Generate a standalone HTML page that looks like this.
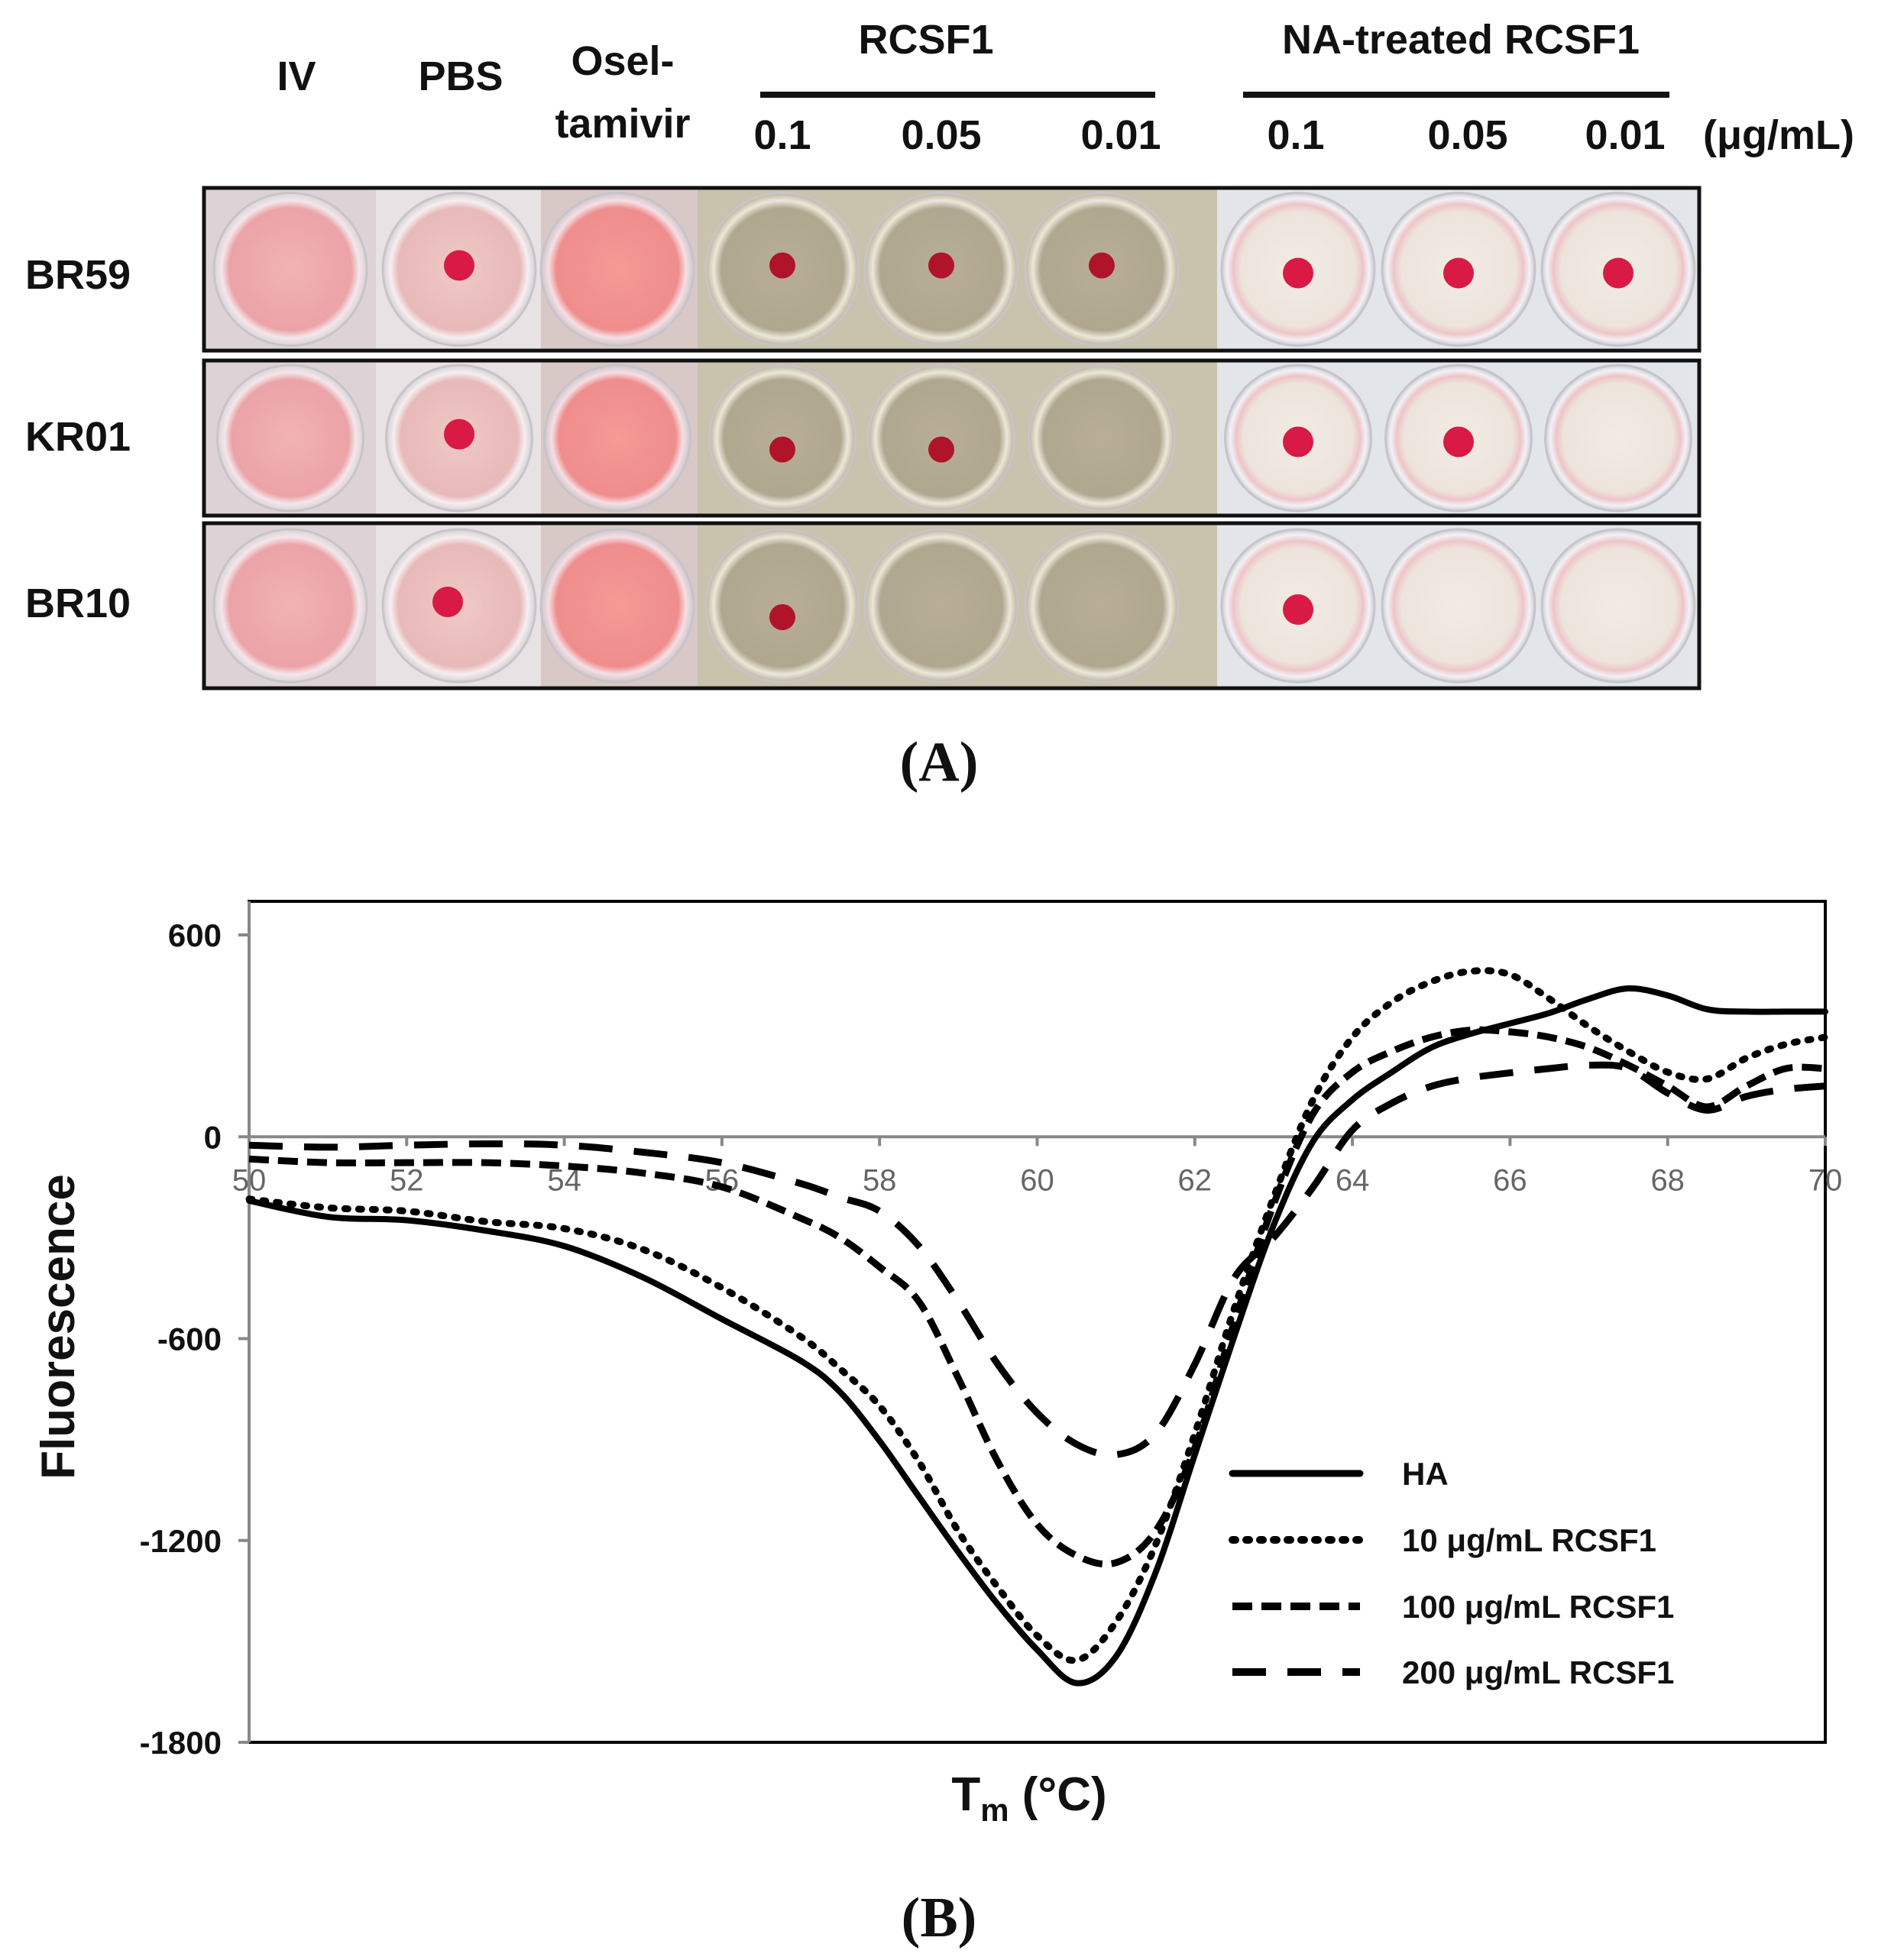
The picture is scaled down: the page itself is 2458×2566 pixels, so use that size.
<!DOCTYPE html>
<html><head><meta charset="utf-8"><style>
body{margin:0;background:#fff}
svg text{font-family:"Liberation Sans",sans-serif}
svg text.serif{font-family:"Liberation Serif",serif}
</style></head><body>
<svg id="fig" width="2458" height="2561" viewBox="0 0 2458 2561" xmlns="http://www.w3.org/2000/svg">
<defs>
<radialGradient id="gPink" cx="50%" cy="50%" r="50%"><stop offset="0" stop-color="#f2b3b5"/><stop offset="0.8" stop-color="#eba3a7"/><stop offset="0.9" stop-color="#f4e6ea"/><stop offset="1" stop-color="#d9d4d8"/></radialGradient>
<radialGradient id="gPinkLight" cx="50%" cy="50%" r="50%"><stop offset="0" stop-color="#efc9c6"/><stop offset="0.8" stop-color="#e8b9b9"/><stop offset="0.9" stop-color="#f6eef0"/><stop offset="1" stop-color="#d5d1d6"/></radialGradient>
<radialGradient id="gOsel" cx="50%" cy="50%" r="50%"><stop offset="0" stop-color="#f59a94"/><stop offset="0.8" stop-color="#ef8d8d"/><stop offset="0.9" stop-color="#f5dfe4"/><stop offset="1" stop-color="#cfc6cc"/></radialGradient>
<radialGradient id="gTan" cx="50%" cy="50%" r="50%"><stop offset="0" stop-color="#b8ae98"/><stop offset="0.8" stop-color="#b0a78f"/><stop offset="0.9" stop-color="#ece7da"/><stop offset="1" stop-color="#bdb49e"/></radialGradient>
<radialGradient id="gWhite" cx="50%" cy="50%" r="50%"><stop offset="0" stop-color="#f1ebe4"/><stop offset="0.75" stop-color="#ede4dc"/><stop offset="0.85" stop-color="#eec5c8"/><stop offset="0.93" stop-color="#f3f1f5"/><stop offset="1" stop-color="#c9cdd8"/></radialGradient>
</defs>
<g>
<g font-weight="bold" font-size="54" fill="#111" text-anchor="middle">
<text x="388" y="118">IV</text>
<text x="603" y="118">PBS</text>
<text x="815" y="98">Osel-</text>
<text x="815" y="180">tamivir</text>
<text x="1212" y="70">RCSF1</text>
<text x="1912" y="70">NA-treated  RCSF1</text>
<text x="1024" y="195">0.1</text>
<text x="1232" y="195">0.05</text>
<text x="1467" y="195">0.01</text>
<text x="1696" y="195">0.1</text>
<text x="1921" y="195">0.05</text>
<text x="2127" y="195">0.01</text>
<text x="2328" y="195">(μg/mL)</text>
<text x="102" y="378">BR59</text>
<text x="102" y="590">KR01</text>
<text x="102" y="808">BR10</text>
</g>
<rect x="995" y="120" width="517" height="8" fill="#111"/>
<rect x="1627" y="120" width="558" height="8" fill="#111"/>
<g id="plates"></g>
<text class="serif" x="1229" y="1022" font-weight="bold" font-size="74" text-anchor="middle" fill="#111">(A)</text>
</g>
<g>
<rect x="326" y="1180" width="2063" height="1101" fill="none" stroke="#000" stroke-width="4"/>
<g id="axes"></g>
<g id="series"></g>
<g id="legend"></g>
<text transform="translate(97,1737) rotate(-90)" font-weight="bold" font-size="62" text-anchor="middle" fill="#111">Fluorescence</text>
<text x="1347" y="2370" font-weight="bold" font-size="62" text-anchor="middle" fill="#111">T<tspan font-size="42" dy="14">m</tspan><tspan dy="-14"> (°C)</tspan></text>
<text class="serif" x="1229" y="2535" font-weight="bold" font-size="74" text-anchor="middle" fill="#111">(B)</text>
</g>
</svg>
<script>
const NS='http://www.w3.org/2000/svg';
function mk(tag,attrs,parent){const e=document.createElementNS(NS,tag);for(const k in attrs)e.setAttribute(k,attrs[k]);parent.appendChild(e);return e;}

// ---- Panel A plate data ----
const rowNames=['BR59','KR01','BR10'];
const wellFills=['gPink','gPinkLight','gOsel','gTan','gTan','gTan','gWhite','gWhite','gWhite'];
const pellets=[[0,1,0,1,1,1,1,1,1],[0,1,0,1,1,0,1,1,0],[0,1,0,1,0,0,1,0,0]];
const rowTop=[246,472,685], rowBot=[459,675,901];
const colCx=[380,601,808,1024,1232,1442,1699,1909,2118];
const segX=[267,492,708,913,1593,2224];
const segBg=['#ddd3d6','#e8e2e5','#d8c9c7','#c9c2ad','#e2e6ea'];
const plates=document.getElementById('plates');
for(let r=0;r<3;r++){
  const g=mk('g',{},plates);
  
  
  const segs=[[0,1],[1,2],[2,3],[3,4],[4,5]];
  segs.forEach((s,i)=>{mk('rect',{x:segX[s[0]],y:rowTop[r],width:segX[s[1]]-segX[s[0]],height:rowBot[r]-rowTop[r],fill:segBg[i]},g);});
  const cy=(rowTop[r]+rowBot[r])/2, rad=(rowBot[r]-rowTop[r])/2-6;
  for(let c=0;c<9;c++){
    const w=mk('circle',{cx:colCx[c],cy:cy,r:Math.min(rad,100),fill:'url(#'+wellFills[c]+')',stroke:'#c8c4c8','stroke-width':3},g);
    
    
    if(pellets[r][c]){
      const p=mk('circle',{cx:colCx[c]+(c===1&&r===2?-15:0),cy:cy+(c>=3&&c<=5&&r>0?15:(c>=6?5:-5)),r:c>=3&&c<=5?17:20,fill:c>=3&&c<=5?'#b0142a':'#d81a45'},g);
      
      
    }
  }
  mk('rect',{x:267,y:rowTop[r],width:1957,height:rowBot[r]-rowTop[r],fill:'none',stroke:'#111','stroke-width':5},g);
}

// ---- Panel B chart data ----
const xTicks=[50,52,54,56,58,60,62,64,66,68,70];
const yTicks=[600,0,-600,-1200,-1800];
const temps=[50,51,52,53,54,55,56,57,57.5,58,58.5,59,59.5,60,60.5,61,61.5,62,62.5,63,63.5,64,64.5,65,65.5,66,66.5,67,67.5,68,68.5,69,69.5,70];
const haValues=[-190,-238,-248,-279,-325,-418,-542,-666,-759,-904,-1070,-1235,-1390,-1525,-1624,-1545,-1297,-945,-594,-263,-14,110,192,265,306,337,368,410,441,420,379,372,372,372];
const rcsf10Values=[-185,-211,-221,-252,-273,-335,-449,-594,-690,-800,-966,-1173,-1339,-1483,-1556,-1442,-1214,-883,-511,-180,110,296,400,461,492,482,410,327,254,192,172,234,275,296];
const rcsf100Values=[-66,-77,-77,-77,-87,-108,-149,-242,-300,-387,-490,-718,-966,-1152,-1245,-1266,-1173,-925,-552,-201,68,192,254,296,317,312,296,265,213,151,89,151,203,203];
const rcsf200Values=[-25,-31,-25,-21,-25,-46,-77,-139,-180,-221,-325,-490,-676,-821,-914,-945,-883,-676,-420,-300,-150,20,100,150,175,190,203,213,203,130,79,120,141,151];
const seriesNames=['HA','10 μg/mL RCSF1','100 μg/mL RCSF1','200 μg/mL RCSF1'];

const X0=326,X1=2389,Y0=1224,Y1=2281,xMin=50,xMax=70,yMin=-1800,yMax=600;
const sx=v=>X0+(v-xMin)/(xMax-xMin)*(X1-X0);
const sy=v=>Y0+(yMax-v)/(yMax-yMin)*(Y1-Y0);

const axes=document.getElementById('axes');
const yAxis=mk('line',{x1:X0,y1:1180,x2:X0,y2:Y1,stroke:'#888','stroke-width':4},axes);


const zl=mk('line',{x1:X0,y1:sy(0),x2:X1,y2:sy(0),stroke:'#888','stroke-width':4},axes);


yTicks.forEach(v=>{
  const tk=mk('line',{x1:X0-14,y1:sy(v),x2:X0,y2:sy(v),stroke:'#888','stroke-width':4},axes);
  
  
  const t=mk('text',{x:X0-36,y:sy(v)+15,'text-anchor':'end','font-size':42,'font-weight':'bold',fill:'#111'},axes);
  t.textContent=v;
  
  
});
xTicks.forEach(v=>{
  const tk=mk('line',{x1:sx(v),y1:sy(0),x2:sx(v),y2:sy(0)+12,stroke:'#888','stroke-width':4},axes);
  
  
  const t=mk('text',{x:sx(v),y:sy(0)+70,'text-anchor':'middle','font-size':40,fill:'#666'},axes);
  t.textContent=v;
  
  
});

const dashes=['', '4 14', '26 12', '44 28'];
const caps=['round','round','butt','butt'];
const allVals=[haValues,rcsf10Values,rcsf100Values,rcsf200Values];
function smoothPath(pts){
  let d='M'+pts[0][0]+','+pts[0][1];
  for(let i=0;i<pts.length-1;i++){
    const p0=pts[i-1]||pts[i],p1=pts[i],p2=pts[i+1],p3=pts[i+2]||p2;
    const c1=[p1[0]+(p2[0]-p0[0])/6,p1[1]+(p2[1]-p0[1])/6];
    const c2=[p2[0]-(p3[0]-p1[0])/6,p2[1]-(p3[1]-p1[1])/6];
    d+=' C'+c1.join(',')+' '+c2.join(',')+' '+p2.join(',');
  }
  return d;
}
const series=document.getElementById('series');
allVals.forEach((vals,i)=>{
  const pts=temps.map((t,j)=>[sx(t),sy(vals[j])]);
  const p=mk('path',{d:smoothPath(pts),fill:'none',stroke:'#000','stroke-width':i===0?8:9,'stroke-dasharray':dashes[i],'stroke-linecap':caps[i]},series);
  
  
});

const legend=document.getElementById('legend');
const legY=[1929,2016,2103,2189];
seriesNames.forEach((n,i)=>{
  const g=mk('g',{},legend);
  
  
  mk('rect',{x:1600,y:legY[i]-30,width:200,height:60,fill:'#fff'},g);
  mk('line',{x1:1613,y1:legY[i],x2:1780,y2:legY[i],stroke:'#000','stroke-width':i===0?9:10,'stroke-dasharray':dashes[i],'stroke-linecap':caps[i]},g);
  const t=mk('text',{x:1835,y:legY[i]+15,'font-size':42,'font-weight':'bold',fill:'#111'},g);
  t.textContent=n;
});
</script>
</body></html>
